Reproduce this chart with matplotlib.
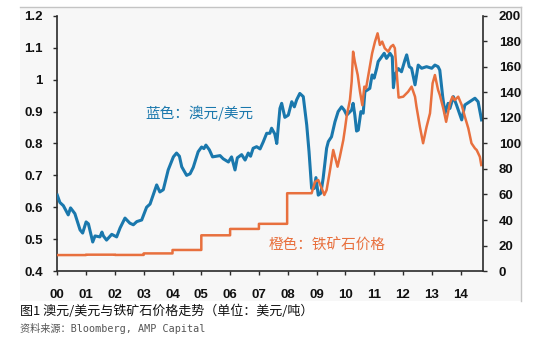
import matplotlib
matplotlib.use('Agg')
import matplotlib.pyplot as plt
import numpy as np
from matplotlib.patches import Rectangle
from matplotlib.lines import Line2D

# ---- data (years since 2000) ----
blue_years = [0.0, 0.09, 0.21, 0.38, 0.46, 0.61, 0.79, 0.88, 1.0, 1.08,
              1.23, 1.31, 1.48, 1.55, 1.6, 1.71, 1.89, 2.06, 2.18, 2.35,
              2.52, 2.64, 2.76, 2.93, 3.1, 3.22, 3.45, 3.56, 3.68, 3.85,
              4.03, 4.14, 4.24, 4.32, 4.49, 4.61, 4.72, 4.89, 5.01, 5.09,
              5.16, 5.28, 5.39, 5.53, 5.65, 5.76, 5.94, 6.05, 6.17, 6.25,
              6.4, 6.52, 6.63, 6.71, 6.8, 6.92, 7.04, 7.15, 7.27, 7.38,
              7.44, 7.55, 7.62, 7.68, 7.73, 7.79, 7.9, 8.02, 8.14, 8.23,
              8.31, 8.42, 8.54, 8.66, 8.74, 8.83, 8.92, 8.98, 9.06, 9.15,
              9.23, 9.35, 9.41, 9.52, 9.64, 9.75, 9.87, 9.96, 10.05, 10.22,
              10.27, 10.33, 10.39, 10.45, 10.54, 10.62, 10.68, 10.77, 10.85, 10.93,
              11.0, 11.09, 11.14, 11.26, 11.35, 11.43, 11.55, 11.63, 11.67, 11.72,
              11.84, 11.95, 12.07, 12.13, 12.22, 12.3, 12.42, 12.53, 12.65, 12.82,
              13.0, 13.11, 13.22, 13.28, 13.38, 13.46, 13.57, 13.63, 13.75, 13.86,
              14.04, 14.15, 14.32, 14.5, 14.61, 14.73]
blue_values = [0.638, 0.615, 0.605, 0.576, 0.598, 0.58, 0.529, 0.519, 0.554, 0.548,
               0.491, 0.51, 0.507, 0.522, 0.51, 0.497, 0.515, 0.507, 0.535, 0.566,
               0.55, 0.545, 0.555, 0.56, 0.60, 0.61, 0.67, 0.648, 0.655, 0.717,
               0.758, 0.77, 0.76, 0.727, 0.70, 0.705, 0.725, 0.774, 0.789, 0.784,
               0.795, 0.78, 0.758, 0.76, 0.762, 0.752, 0.742, 0.758, 0.717, 0.755,
               0.765, 0.748, 0.77, 0.76, 0.785, 0.79, 0.783, 0.805, 0.832, 0.832,
               0.848, 0.83, 0.80, 0.86, 0.91, 0.926, 0.882, 0.889, 0.931, 0.915,
               0.937, 0.957, 0.947, 0.858, 0.774, 0.659, 0.659, 0.693, 0.638, 0.644,
               0.691, 0.785, 0.806, 0.821, 0.868, 0.9, 0.915, 0.905, 0.889, 0.905,
               0.926, 0.889, 0.839, 0.842, 0.9, 0.895, 0.963, 0.968, 0.973, 1.015,
               1.005, 1.036, 1.057, 1.072, 1.083, 1.067, 1.083, 1.072, 0.975, 1.015,
               1.035, 1.025, 1.062, 1.078, 1.041, 1.036, 0.984, 1.046, 1.036, 1.041,
               1.036, 1.046, 1.041, 1.03, 0.947, 0.895, 0.926, 0.91, 0.947, 0.921,
               0.874, 0.921, 0.931, 0.942, 0.931, 0.874]

orange_years = [0.0, 1.0, 1.0, 2.0, 2.0, 3.0, 3.0, 4.0, 4.0, 5.0,
                5.0, 6.0, 6.0, 7.0, 7.0, 7.98, 7.98, 8.83, 8.95, 9.06,
                9.18, 9.27, 9.35, 9.46, 9.58, 9.64, 9.73, 9.81, 9.93, 9.99,
                10.05, 10.16, 10.22, 10.27, 10.33, 10.43, 10.51, 10.59, 10.66, 10.72,
                10.82, 10.93, 11.03, 11.12, 11.2, 11.28, 11.37, 11.49, 11.58, 11.66,
                11.72, 11.85, 12.01, 12.18, 12.3, 12.42, 12.47, 12.59, 12.7, 12.82,
                12.94, 13.03, 13.11, 13.22, 13.28, 13.4, 13.5, 13.63, 13.72, 13.8,
                13.92, 14.04, 14.15, 14.27, 14.38, 14.5, 14.56, 14.67, 14.72]
orange_values = [12.5, 12.5, 12.8, 12.8, 12.6, 12.6, 13.8, 13.8, 16.5, 16.5,
                 28.0, 28.0, 33.0, 33.0, 37.0, 37.0, 61.0, 61.0, 70.0, 71.4,
                 64.8, 59.6, 63.5, 77.9, 94.9, 89.6, 81.8, 89.6, 102.7, 111.9,
                 122.0, 134.1, 148.5, 172.0, 164.2, 153.7, 140.6, 130.0, 144.6, 143.3,
                 156.3, 170.7, 179.9, 186.4, 177.3, 179.9, 174.7, 172.0, 175.9, 177.3,
                 174.7, 136.0, 136.7, 140.6, 144.6, 136.7, 128.9, 113.0, 100.2, 113.0,
                 123.7, 147.2, 153.7, 142.0, 138.1, 127.6, 117.0, 131.5, 136.7, 134.1,
                 136.7, 130.2, 121.0, 111.9, 100.2, 96.2, 94.9, 89.6, 83.1]

x_ticks = list(range(15))
x_labels = ['00', '01', '02', '03', '04', '05', '06', '07', '08', '09',
            '10', '11', '12', '13', '14']
left_ticks = [0.4, 0.5, 0.6, 0.7, 0.8, 0.9, 1.0, 1.1, 1.2]
left_labels = ['0.4', '0.5', '0.6', '0.7', '0.8', '0.9', '1', '1.1', '1.2']
right_ticks = [0, 20, 40, 60, 80, 100, 120, 140, 160, 180, 200]

blue_label = '蓝色：澳元/美元'
orange_label = '橙色：铁矿石价格'
caption = '图1 澳元/美元与铁矿石价格走势（单位：美元/吨）'
source = '资料来源：Bloomberg, AMP Capital'

BLUE = '#1a78ad'
ORANGE = '#e8703e'
BG = '#f7f7f7'
SPINE = '#2a2a2a'

plt.rcParams['font.family'] = ['Liberation Sans', 'Noto Sans CJK SC', 'DejaVu Sans']

fig = plt.figure(figsize=(5.34, 3.43), dpi=100)
fig.patch.set_facecolor('white')
fig.add_artist(Rectangle((0.0375, 0.1224), 0.9382, 0.8572, transform=fig.transFigure,
                         facecolor=BG, edgecolor='none', zorder=-10))
fig.add_artist(Line2D([0.0375, 0.9757], [0.9796, 0.9796], color='#c4c4c4', lw=1.0, zorder=-5))
fig.add_artist(Line2D([0.9757, 0.9757], [0.1224, 0.9796], color='#c4c4c4', lw=1.0, zorder=-5))

ax = fig.add_axes([0.1073, 0.2099, 0.7972, 0.7435])
ax.set_facecolor('none')
ax2 = ax.twinx()
ax2.set_facecolor('none')

ax.plot(blue_years, blue_values, color=BLUE, lw=2.2, solid_joinstyle='round', zorder=3)
ax2.plot(orange_years, orange_values, color=ORANGE, lw=1.8, solid_joinstyle='round', zorder=2)

ax.set_xlim(0, 14.78)
ax.set_ylim(0.4, 1.2)
ax2.set_ylim(0, 200)

tick_font = dict(fontfamily='Liberation Sans', fontweight='bold', fontsize=9.5)
ax.set_xticks(x_ticks)
ax.set_xticklabels(x_labels, **tick_font)
ax.set_yticks(left_ticks)
ax.set_yticklabels(left_labels, **tick_font)
ax2.set_yticks(right_ticks)
ax2.set_yticklabels([str(v) for v in right_ticks], **tick_font)

ax.tick_params(axis='x', direction='out', length=3, width=1, pad=10, colors=SPINE, labelcolor='#111111')
ax.tick_params(axis='y', direction='out', length=3, width=1, pad=7.5, colors=SPINE, labelcolor='#111111')
ax2.tick_params(axis='y', direction='out', length=3, width=1, pad=8.5, colors=SPINE, labelcolor='#111111')

for a in (ax, ax2):
    a.spines['top'].set_visible(False)
ax.spines['right'].set_visible(False)
ax2.spines['left'].set_visible(False)
ax2.spines['bottom'].set_visible(False)
for s in ('left', 'bottom'):
    ax.spines[s].set_color(SPINE)
    ax.spines[s].set_linewidth(1.2)
ax2.spines['right'].set_color(SPINE)
ax2.spines['right'].set_linewidth(1.2)

cjk = ['Noto Sans CJK SC', 'DejaVu Sans']
ax.text(0.334, 0.62, blue_label, transform=ax.transAxes, ha='center', va='center',
        color=BLUE, fontsize=10.5, family=cjk)
ax.text(0.635, 0.098, orange_label, transform=ax.transAxes, ha='center', va='center',
        color=ORANGE, fontsize=10.5, family=cjk)

fig.text(0.038, 0.093, caption, ha='left', va='center', color='#111111', fontsize=9.4, family=cjk)
fig.text(0.038, 0.041, source, ha='left', va='center', color='#555555', fontsize=7.3,
         family=['DejaVu Sans Mono', 'Noto Sans CJK SC'])

fig.savefig('out.png', dpi=100, facecolor='white')
